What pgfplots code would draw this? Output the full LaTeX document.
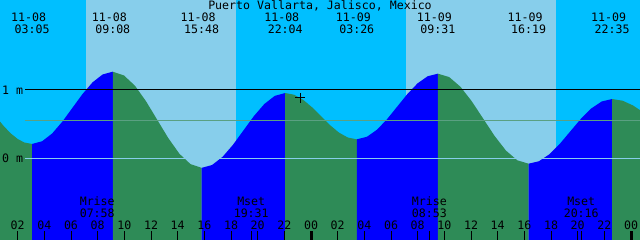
\documentclass[border=0pt]{standalone}
\usepackage{pgfplots}
\pgfplotsset{compat=1.18}
\usepackage{fontspec}
\setmainfont{DejaVu Sans Mono}
\definecolor{nightsky}{RGB}{0,191,255}
\definecolor{daysky}{RGB}{135,206,235}
\definecolor{ebb}{RGB}{46,139,87}
\definecolor{flood}{RGB}{0,0,255}
\definecolor{meanline}{RGB}{90,160,130}
\definecolor{zeroline}{RGB}{135,206,235}
\begin{document}
\fontsize{11.6}{12}\selectfont
\begin{tikzpicture}
\begin{axis}[
  width=640pt, height=240pt, scale only axis,
  xmin=0.675, xmax=48.675, ymin=-1.196, ymax=2.3177,
  axis background/.style={fill=nightsky},
  axis line style={draw=none},
  axis on top,
  ytick=\empty,
  xtick pos=lower,
  tick align=inside,
  xtick={2,4,6,8,10,12,14,16,18,20,22,26,28,30,32,34,36,38,40,42,44,46},
  xticklabels={02,04,06,08,10,12,14,16,18,20,22,02,04,06,08,10,12,14,16,18,20,22},
  extra x ticks={24,48},
  extra x tick labels={00,00},
  extra x tick style={major tick length=8.5pt, tick style={line width=3pt, black}},
  minor xtick={7.967,19.517,32.883,44.267},
  major tick length=8.5pt, minor tick length=8.5pt,
  tick style={black, line width=1pt},
  minor tick style={black, line width=1pt},
  xticklabel style={anchor=base, yshift=10.7pt, font=\fontsize{11.6}{12}\selectfont},
  /pgf/number format/assume math mode=true,
]
% day bands
\addplot[draw=none, fill=daysky] coordinates {(7.125,-1.3) (7.125,2.4) (18.375,2.4) (18.375,-1.3)} --cycle;
\addplot[draw=none, fill=daysky] coordinates {(31.125,-1.3) (31.125,2.4) (42.375,2.4) (42.375,-1.3)} --cycle;
% tide segments
\addplot[draw=none, fill=ebb] coordinates {(0.5,-1.3) (0.5,0.578) (1.0,0.462) (1.5,0.361) (2.0,0.283) (2.5,0.231) (3.083,0.210) (3.083,-1.3)} --cycle;
\addplot[draw=none, fill=flood] coordinates {(3.083,-1.3) (3.083,0.210) (3.839,0.250) (4.596,0.365) (5.352,0.537) (6.108,0.739) (6.864,0.941) (7.621,1.113) (8.377,1.228) (9.133,1.268) (9.133,-1.3)} --cycle;
\addplot[draw=none, fill=ebb] coordinates {(9.133,-1.3) (9.133,1.268) (9.966,1.214) (10.800,1.062) (11.633,0.833) (12.466,0.564) (13.300,0.295) (14.133,0.066) (14.966,-0.086) (15.800,-0.140) (15.800,-1.3)} --cycle;
\addplot[draw=none, fill=flood] coordinates {(15.800,-1.3) (15.800,-0.140) (16.583,-0.098) (17.367,0.021) (18.150,0.198) (18.933,0.408) (19.717,0.618) (20.500,0.795) (21.283,0.914) (22.067,0.956) (22.067,-1.3)} --cycle;
\addplot[draw=none, fill=ebb] coordinates {(22.067,-1.3) (22.067,0.956) (22.738,0.930) (23.408,0.857) (24.079,0.747) (24.750,0.617) (25.421,0.487) (26.092,0.377) (26.762,0.304) (27.433,0.278) (27.433,-1.3)} --cycle;
\addplot[draw=none, fill=flood] coordinates {(27.433,-1.3) (27.433,0.278) (28.194,0.315) (28.954,0.419) (29.715,0.575) (30.475,0.759) (31.235,0.942) (31.996,1.098) (32.756,1.202) (33.517,1.239) (33.517,-1.3)} --cycle;
\addplot[draw=none, fill=ebb] coordinates {(33.517,-1.3) (33.517,1.239) (34.367,1.189) (35.217,1.046) (36.067,0.832) (36.917,0.580) (37.767,0.328) (38.617,0.114) (39.467,-0.029) (40.317,-0.079) (40.317,-1.3)} --cycle;
\addplot[draw=none, fill=flood] coordinates {(40.317,-1.3) (40.317,-0.079) (41.100,-0.043) (41.883,0.060) (42.667,0.213) (43.450,0.395) (44.233,0.576) (45.017,0.729) (45.800,0.832) (46.583,0.868) (46.583,-1.3)} --cycle;
\addplot[draw=none, fill=ebb] coordinates {(46.583,-1.3) (46.583,0.868) (47.371,0.843) (48.158,0.773) (48.9,0.675) (48.9,-1.3)} --cycle;
% reference lines
\addplot[zeroline, line width=1pt] coordinates {(2.55,0) (48.9,0)};
\addplot[meanline, line width=1pt] coordinates {(2.55,0.556) (48.9,0.556)};
\addplot[black, line width=1pt] coordinates {(2.55,1) (48.9,1)};
% current time marker
\addplot[only marks, mark=+, mark size=5pt, black, line width=1pt] coordinates {(23.175,0.883)};
% labels
\node[anchor=west, inner sep=0pt, xshift=2pt] at (axis cs:0.675,1) {1 m};
\node[anchor=west, inner sep=0pt, xshift=2pt] at (axis cs:0.675,0) {0 m};
\node[anchor=base, inner sep=0pt] at (axis cs:24.675,2.182) {Puerto Vallarta, Jalisco, Mexico};
\foreach \t/\d/\h in {3.083/11-08/03:05, 9.133/11-08/09:08, 15.8/11-08/15:48, 22.067/11-08/22:04, 27.433/11-09/03:26, 33.517/11-09/09:31, 40.317/11-09/16:19, 46.583/11-09/22:35}{
  \edef\tmp{\noexpand\node[anchor=base, inner sep=0pt] at (axis cs:\t-0.26,2.0) {\d};
    \noexpand\node[anchor=base, inner sep=0pt] at (axis cs:\t,1.82) {\h};}
  \tmp
}
\foreach \t/\n/\h in {7.967/Mrise/07:58, 19.517/Mset/19:31, 32.883/Mrise/08:53, 44.267/Mset/20:16}{
  \edef\tmp{\noexpand\node[anchor=base, inner sep=0pt] at (axis cs:\t,-0.698) {\n};
    \noexpand\node[anchor=base, inner sep=0pt] at (axis cs:\t,-0.86) {\h};}
  \tmp
}
\end{axis}
\pgfresetboundingbox
\path[use as bounding box] (0,0) rectangle (640pt,240pt);
\end{tikzpicture}
\end{document}
